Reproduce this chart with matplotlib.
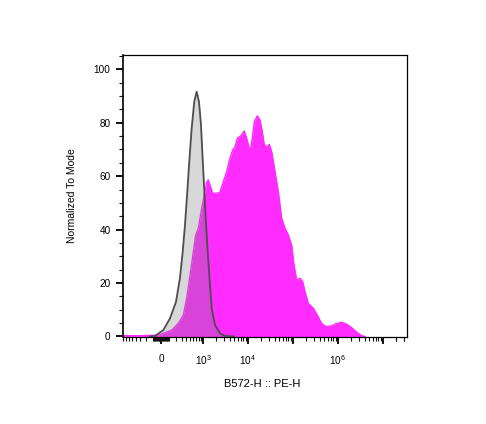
import matplotlib
matplotlib.use("Agg")
import matplotlib.pyplot as plt
from matplotlib.ticker import FixedLocator, FixedFormatter, NullFormatter

plt.rcParams['font.family'] = ['Liberation Sans', 'DejaVu Sans']
plt.rcParams['mathtext.fontset'] = 'custom'
plt.rcParams['mathtext.rm'] = 'Liberation Sans'
plt.rcParams['mathtext.it'] = 'Liberation Sans'

# ---- data ----
ctrl_x = [-140, -74, 28, 113, 200, 266, 320, 368, 423, 474, 543, 627, 714,
          808, 899, 963, 1053, 1151, 1277, 1439, 1572, 1865, 2410, 3115, 5000]
ctrl_y = [0, 0.2, 2.4, 6.8, 13.0, 21.8, 31.7, 41.7, 54.2, 65.4, 77.9, 87.9, 91.6,
          87.9, 79.2, 69.2, 56.7, 44.2, 31.7, 19.3, 10.6, 4.3, 1.2, 0.2, 0]

stain_x = [-800, -300, -33, 136, 237, 332, 408, 495, 595, 677, 779, 852, 933,
           1070, 1212, 1317, 1439, 1656, 2037, 2410, 2856, 3400, 4030, 4630,
           5206, 5865, 6980, 8390, 9480, 11220, 12640, 14000, 16330, 18750,
           21080, 23350, 26410, 30130, 34120, 40360, 47860, 56890, 67420, 79800,
           94880, 106900, 122700, 145200, 166700, 187500, 221900, 287000,
           352200, 440600, 549500, 736200, 950600, 1227000, 1585000, 2048000,
           2645000, 3417000, 4047000]
stain_y = [0.3, 0.3, 0.5, 2.4, 4.9, 8.0, 14.3, 23.0, 31.7, 38.0, 40.5, 44.2, 48.0,
           53.0, 57.9, 58.6, 56.7, 53.6, 53.6, 54.0, 57.9, 61.7, 66.7, 69.8,
           71.0, 74.2, 75.1, 76.9, 74.2, 69.2, 74.2, 80.4, 82.6, 81.0,
           76.6, 71.7, 71.0, 71.9, 69.2, 61.7, 54.2, 44.2, 40.5, 38.0,
           34.2, 26.8, 21.1, 21.8, 20.5, 16.8, 12.4, 10.6,
           8.0, 4.9, 3.7, 4.0, 4.9, 5.3, 4.6, 3.3,
           1.6, 0.3, 0]

x_major = [0, 1e3, 1e4, 1e5, 1e6, 1e7]
x_major_labels = ['0', '$10^3$', '$10^4$', '', '$10^6$', '']
y_major = [0, 20, 40, 60, 80, 100]
y_major_labels = ['0', '20', '40', '60', '80', '100']

x_label = 'B572-H :: PE-H'
y_label = 'Normalized To Mode'

# ---- figure ----
fig = plt.figure(figsize=(4.86, 4.24), dpi=100)
ax = fig.add_axes([123 / 486, 1 - 337 / 424, 283.7 / 486, 282 / 424])

ax.set_xscale('asinh', linear_width=236)

magenta = '#ff2bff'
ax.fill_between(stain_x, stain_y, 0, color=magenta, lw=0, zorder=1)
ax.plot(stain_x, stain_y, color=magenta, lw=1.0, zorder=1.5)
ax.fill_between(ctrl_x, ctrl_y, 0, color='#7f7f7f', alpha=0.3, lw=0, zorder=2)
ax.plot(ctrl_x, ctrl_y, color='#4d4d4d', lw=1.3, zorder=3)

ax.set_xlim(-808, 3.42e7)
ax.set_ylim(-0.19, 105.35)

# x ticks
minor = []
for k in range(1, 8):
    for m in range(1, 10):
        v = m * 10 ** k
        if k >= 3 and m == 1:
            continue
        minor.append(v)
for k in range(1, 3):
    for m in range(1, 10):
        minor.append(-m * 10 ** k)
minor += [2e7, 3e7]
ax.xaxis.set_major_locator(FixedLocator(x_major))
ax.xaxis.set_major_formatter(FixedFormatter(x_major_labels))
ax.xaxis.set_minor_locator(FixedLocator(minor))
ax.xaxis.set_minor_formatter(NullFormatter())

ax.yaxis.set_major_locator(FixedLocator(y_major))
ax.yaxis.set_major_formatter(FixedFormatter(y_major_labels))
ax.yaxis.set_minor_locator(FixedLocator([v for v in range(5, 106, 5) if v % 20]))

ax.tick_params(which='major', direction='out', length=5, width=1.4,
               labelsize=7.2, color='#111111', pad=7)
ax.tick_params(which='minor', direction='out', length=3, width=0.8, color='#111111')
ax.tick_params(axis='y', which='major', pad=4)

for s in ['top', 'right', 'bottom']:
    ax.spines[s].set_linewidth(0.9)
ax.spines['left'].set_linewidth(1.2)

ax.set_xlabel(x_label, fontsize=8)
ax.set_ylabel(y_label, fontsize=7.5)
ax.xaxis.set_label_coords(0.49, -0.15)
ax.yaxis.set_label_coords(-0.162, 0.5)

fig.savefig('out.png', dpi=100)
